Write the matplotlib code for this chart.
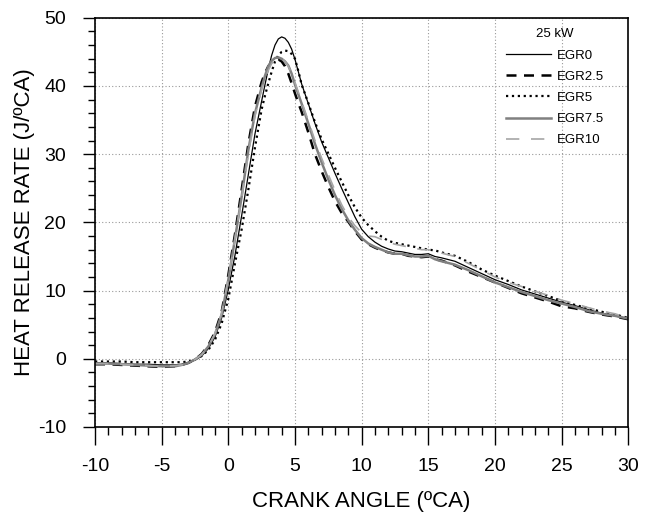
import matplotlib
matplotlib.use('Agg')
import matplotlib.pyplot as plt
from matplotlib.ticker import MultipleLocator

plt.rcParams['font.family'] = ['Liberation Sans', 'DejaVu Sans']
plt.rcParams['axes.unicode_minus'] = False

# crank angle (deg CA)
crank = [-10, -9, -8, -7, -6, -5, -4, -3.5, -3, -2.5, -2, -1.5, -1, -0.5,
         0, 0.5, 1, 1.5, 2, 2.5, 2.75, 3, 3.25, 3.5, 3.75, 4, 4.25, 4.5, 4.75, 5, 5.25, 5.5,
         6, 6.5, 7, 7.5, 8, 8.5, 9, 9.5, 10, 10.5, 11, 11.5, 12, 12.5, 13, 13.5, 14, 14.5,
         15, 15.5, 16, 17, 18, 19, 20, 21, 22, 23, 24, 25, 26, 27, 28, 29, 30]

# heat release rate (J/deg CA) for each EGR rate
egr0 = [-0.6, -0.6, -0.7, -0.8, -0.8, -0.9, -0.9, -0.8, -0.6, -0.2, 0.4, 1.5, 3.2, 6.0,
        10.2, 15.2, 21.0, 27.0, 33.0, 37.8, 40.2, 42.5, 44.5, 46.0, 46.9, 47.2, 47.0, 46.4, 45.4, 43.9, 42.1, 40.3,
        37.4, 34.5, 31.8, 29.5, 27.2, 25.0, 22.9, 20.8, 19.0, 17.9, 17.1, 16.5, 16.1, 15.8, 15.7, 15.5, 15.3, 15.3,
        15.4, 15.0, 14.8, 14.3, 13.4, 12.5, 11.6, 10.9, 10.1, 9.5, 8.9, 8.3, 7.8, 7.2, 6.7, 6.3, 5.8]
egr2_5 = [-0.8, -0.8, -0.9, -1.0, -1.1, -1.2, -1.1, -0.9, -0.6, -0.1, 0.7, 2.0, 3.9, 6.9,
          12.3, 18.3, 24.8, 31.5, 37.0, 40.6, 41.9, 42.9, 43.5, 43.8, 43.9, 43.6, 42.9, 41.8, 40.4, 38.9, 37.5, 36.2,
          33.2, 30.0, 27.5, 25.2, 23.1, 21.4, 20.1, 18.7, 17.5, 16.8, 16.3, 15.9, 15.6, 15.4, 15.4, 15.1, 15.0, 14.9,
          15.0, 14.6, 14.4, 13.7, 12.8, 12.0, 11.2, 10.4, 9.6, 9.0, 8.4, 7.7, 7.4, 6.9, 6.5, 6.2, 5.8]
egr5 = [-0.4, -0.4, -0.4, -0.5, -0.5, -0.5, -0.5, -0.5, -0.4, -0.1, 0.4, 1.3, 2.8, 5.2,
        8.8, 14.0, 19.0, 24.8, 31.0, 36.6, 38.6, 40.4, 42.1, 43.6, 44.5, 45.0, 45.2, 45.1, 44.7, 44.0, 42.2, 40.2,
        37.5, 34.7, 32.2, 30.1, 28.0, 26.0, 24.0, 22.2, 20.7, 19.6, 18.7, 17.9, 17.3, 17.0, 16.8, 16.6, 16.4, 16.2,
        16.0, 15.9, 15.6, 15.1, 14.2, 13.1, 12.2, 11.4, 10.6, 9.9, 9.2, 8.5, 7.9, 7.4, 6.9, 6.5, 6.0]
egr7_5 = [-0.7, -0.7, -0.8, -0.9, -1.0, -1.1, -1.1, -0.9, -0.6, -0.1, 0.6, 1.8, 3.6, 6.5,
          11.6, 17.6, 23.8, 30.6, 36.0, 39.8, 41.5, 42.9, 43.7, 44.1, 44.2, 44.0, 43.6, 43.0, 41.8, 40.2, 38.8, 37.4,
          34.5, 31.5, 28.8, 26.3, 24.0, 22.0, 20.3, 18.9, 17.7, 16.9, 16.4, 16.0, 15.6, 15.4, 15.4, 15.2, 15.0, 15.0,
          15.1, 14.6, 14.3, 13.8, 13.0, 12.1, 11.2, 10.5, 9.8, 9.2, 8.6, 8.1, 7.6, 7.0, 6.6, 6.3, 5.9]
egr10 = [-0.7, -0.7, -0.8, -0.9, -1.0, -1.1, -1.0, -0.9, -0.6, -0.1, 0.6, 1.8, 3.7, 6.7,
         11.8, 17.6, 23.6, 30.0, 35.6, 39.5, 41.0, 42.3, 43.3, 43.9, 44.1, 44.0, 43.6, 42.9, 41.8, 40.5, 39.1, 37.7,
         34.9, 32.0, 29.4, 27.0, 24.7, 22.6, 20.8, 19.5, 18.5, 18.0, 17.9, 17.5, 17.1, 16.8, 16.6, 16.4, 16.2, 16.0,
         16.0, 15.8, 15.5, 15.0, 14.0, 13.0, 12.0, 11.2, 10.6, 9.9, 9.3, 8.6, 8.1, 7.5, 7.0, 6.6, 6.0]

fig = plt.figure(figsize=(6.51, 5.16), dpi=100)
ax = fig.add_axes([0.146, 0.1725, 0.819, 0.793])

ax.plot(crank, egr0, color='black', lw=0.9, label='EGR0')
ax.plot(crank, egr2_5, color='black', lw=1.8, dashes=(4, 3), label='EGR2.5')
ax.plot(crank, egr5, color='black', lw=1.6, linestyle=':', label='EGR5')
ax.plot(crank, egr7_5, color='#808080', lw=1.8, label='EGR7.5')
ax.plot(crank, egr10, color='#a6a6a6', lw=1.2, dashes=(8, 7), label='EGR10')

ax.set_xlim(-10, 30)
ax.set_ylim(-10, 50)
ax.xaxis.set_major_locator(MultipleLocator(5))
ax.xaxis.set_minor_locator(MultipleLocator(1))
ax.yaxis.set_major_locator(MultipleLocator(10))
ax.yaxis.set_minor_locator(MultipleLocator(2))

ax.tick_params(axis='x', which='major', direction='out', length=13, width=1, pad=9, labelsize=14)
ax.tick_params(axis='x', which='minor', direction='out', length=6, width=1)
ax.tick_params(axis='y', which='major', direction='out', length=9, width=1, pad=12, labelsize=14)
ax.tick_params(axis='y', which='minor', direction='out', length=5, width=1)

ax.grid(which='major', color='#999999', linestyle=(0, (1, 2)), linewidth=0.8)
for s in ax.spines.values():
    s.set_linewidth(1.2)

ax.set_xlabel('CRANK ANGLE (ºCA)', fontsize=16, labelpad=12)
ax.set_ylabel('HEAT RELEASE RATE (J/ºCA)', fontsize=16, labelpad=2)

leg = ax.legend(title='25 kW', loc='upper right', frameon=False, fontsize=9.5,
                title_fontsize=9.5, handlelength=3.4, handletextpad=0.5,
                labelspacing=0.68, borderaxespad=0.4, bbox_to_anchor=(0.975, 1.0))

fig.savefig('out.png', dpi=100, facecolor='white')
